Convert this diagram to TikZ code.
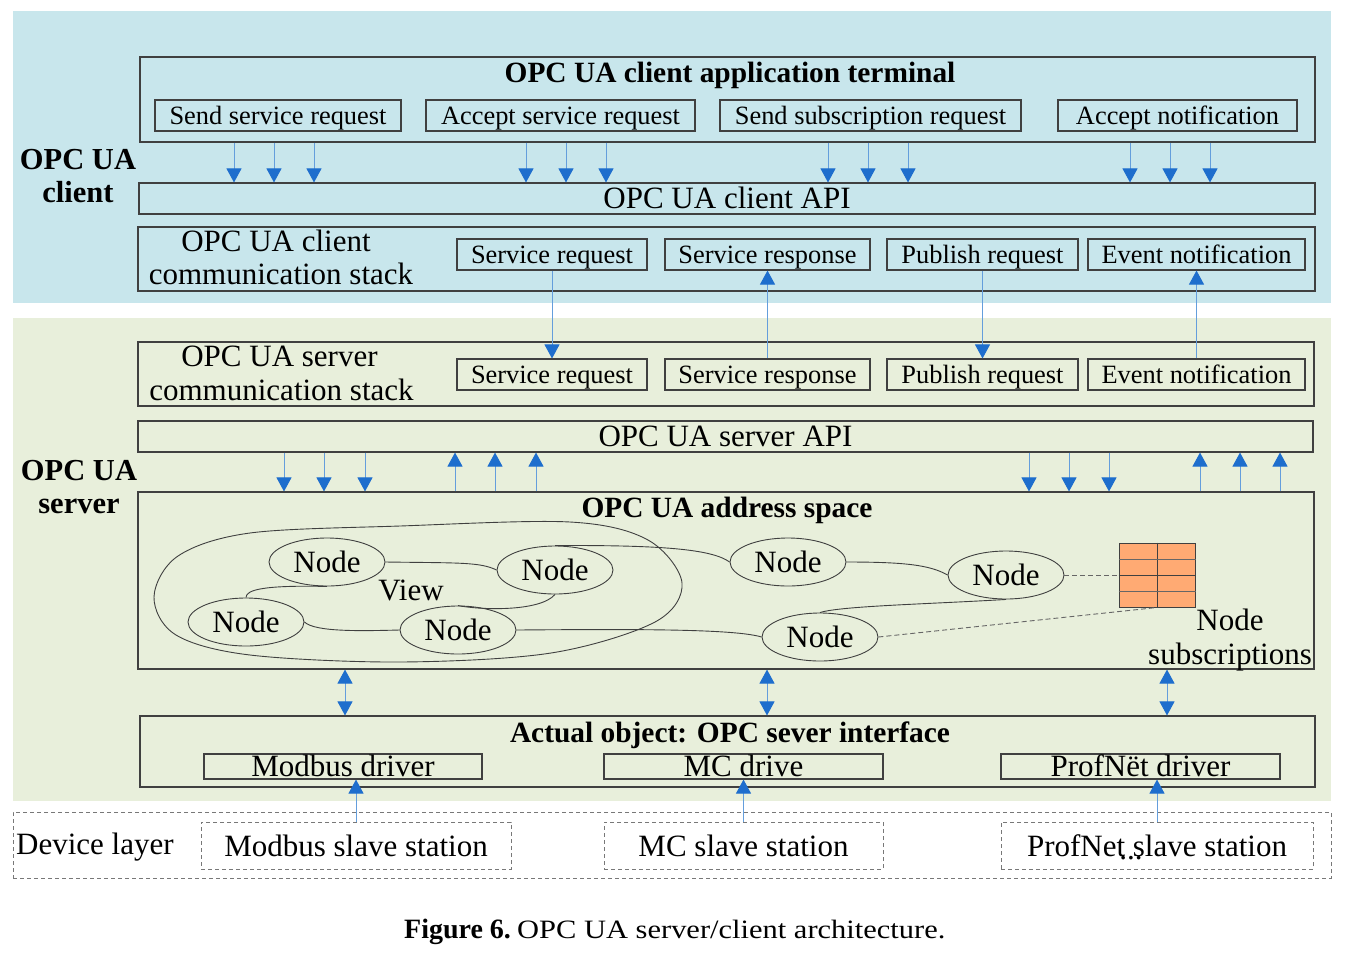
\documentclass[tikz,border=0pt]{standalone}
\usepackage{fontspec}
\setmainfont{Liberation Serif}
\newfontfamily\capfont[FakeStretch=1.15]{Liberation Serif}
\usetikzlibrary{arrows.meta,shapes.geometric,calc}
\definecolor{clientbg}{RGB}{200,230,236}
\definecolor{serverbg}{RGB}{232,239,219}
\definecolor{boxline}{RGB}{64,64,64}
\definecolor{shaft}{RGB}{100,158,220}
\definecolor{tipblue}{RGB}{30,110,205}
\definecolor{subsfill}{RGB}{255,170,115}
\definecolor{dashgray}{RGB}{120,120,120}
\newcommand\fsA{\fontsize{26.4}{30}\selectfont}
\newcommand\fsB{\fontsize{31}{35}\selectfont}
\newcommand\fsT{\fontsize{29.4}{33}\selectfont\bfseries}
\newcommand\fsL{\fontsize{30.5}{34}\selectfont\bfseries}
\tikzset{
  box/.style={draw=boxline, line width=1.1pt, inner sep=0pt, rectangle},
  tA/.style={font=\fsA, text height=22.4pt, text depth=5.3pt},
  tB/.style={font=\fsB, text height=24.8pt, text depth=5.6pt},
  tS/.style={font=\fsB, text height=26pt, text depth=5pt},
  tD/.style={font=\fsB, text height=19.2pt, text depth=0pt},
  lbl/.style={anchor=base, inner sep=0pt},
  ttl/.style={anchor=base, inner sep=0pt, font=\fsT},
  sidelbl/.style={anchor=base, inner sep=0pt, font=\fsL},
  ellnode/.style={ellipse, draw=boxline, line width=0.9pt, minimum width=116, minimum height=48, inner sep=0pt, font=\fsB},
  wire/.style={draw=boxline, line width=0.9pt},
  dwire/.style={draw=boxline!80, line width=0.9pt, dash pattern=on 5pt off 3pt},
  arr/.style={draw=shaft, line width=1pt, -{Triangle[width=15pt,length=14pt,color=tipblue]}},
  darr/.style={draw=shaft, line width=1pt, {Triangle[width=15pt,length=14pt,color=tipblue]}-{Triangle[width=15pt,length=14pt,color=tipblue]}},
  dbox/.style={draw=dashgray, line width=0.9pt, dash pattern=on 4pt off 3pt, inner sep=0pt, rectangle}
}
\begin{document}
\begin{tikzpicture}[x=1pt,y=-1pt]
\useasboundingbox (0,0) rectangle (1356,962);
\fill[clientbg] (13,11) rectangle (1331,303);
\fill[serverbg] (13,318) rectangle (1331,801);

% side labels
\node[sidelbl] (lc1) at (78,169) {OPC UA};
\node[sidelbl] (lc2) at (78,202) {client};
\node[sidelbl] (ls1) at (79,480) {OPC UA};
\node[sidelbl] (ls2) at (79,513) {server};

% client application terminal
\node[box, minimum width=1175, minimum height=85] (app) at (727.5,99.5) {};
\node[ttl] (appt) at (730,82) {OPC UA client application terminal};
\node[box, tA, minimum width=246, minimum height=31] (ssr) at (278,115.5) {Send service request};
\node[box, tA, minimum width=269, minimum height=31] (asr) at (560.5,115.5) {Accept service request};
\node[box, tA, minimum width=301, minimum height=31] (ssub) at (870.5,115.5) {Send subscription request};
\node[box, tA, minimum width=239, minimum height=31] (anot) at (1177.5,115.5) {Accept notification};

% client API
\node[box, tB, minimum width=1176, minimum height=31] (capi) at (727,198.5) {OPC UA client API};
\foreach \x in {234,274,314,526,566,606,828,868,908,1130,1170,1210}
  \draw[arr] (app.south -| \x,0) -- (capi.north -| \x,0);

% client communication stack
\node[box, minimum width=1177, minimum height=64] (cstack) at (726.5,259) {};
\node[lbl, font=\fsB] (cst1) at (276,251) {OPC UA client};
\node[lbl, font=\fsB] (cst2) at (281,284) {communication stack};
\node[box, tA, minimum width=190, minimum height=31] (csreq) at (552,254.5) {Service request};
\node[box, tA, minimum width=205, minimum height=31] (csresp) at (767.5,254.5) {Service response};
\node[box, tA, minimum width=191, minimum height=31] (cpreq) at (982.5,254.5) {Publish request};
\node[box, tA, minimum width=217, minimum height=31] (cevn) at (1196.5,254.5) {Event notification};

% server communication stack
\node[box, minimum width=1176, minimum height=64] (sstack) at (726,374) {};
\node[lbl, font=\fsB] (sst1) at (279.5,366) {OPC UA server};
\node[lbl, font=\fsB] (sst2) at (281.5,400) {communication stack};
\node[box, tA, minimum width=190, minimum height=31] (ssreq) at (552,374.5) {Service request};
\node[box, tA, minimum width=205, minimum height=31] (ssresp) at (767.5,374.5) {Service response};
\node[box, tA, minimum width=191, minimum height=31] (spreq) at (982.5,374.5) {Publish request};
\node[box, tA, minimum width=217, minimum height=31] (sevn) at (1196.5,374.5) {Event notification};

\draw[arr] (csreq.south) -- (ssreq.north);
\draw[arr] (ssresp.north) -- (csresp.south);
\draw[arr] (cpreq.south) -- (spreq.north);
\draw[arr] (sevn.north) -- (cevn.south);

% server API
\node[box, tB, minimum width=1175, minimum height=31] (sapi) at (725.5,436.5) {OPC UA server API};

% address space
\node[box, minimum width=1176, minimum height=177] (addr) at (726,580.5) {};
\node[ttl] (addrt) at (727,517) {OPC UA address space};
\foreach \x in {284,324,365,1029,1069,1109}
  \draw[arr] (sapi.south -| \x,0) -- (addr.north -| \x,0);
\foreach \x in {455,495,536,1200,1240,1280}
  \draw[arr] (addr.north -| \x,0) -- (sapi.south -| \x,0);

% view outline
\draw[wire] plot[smooth cycle, tension=0.55] coordinates {
  (154,597) (178,556) (250,533) (400,526) (570,522)
  (648,540) (682,583) (655,622) (551,653) (400,662)
  (250,655) (176,635)};
\node[lbl, font=\fsB] (view) at (411,600) {View};

\node[ellnode] (n1) at (327,562) {Node};
\node[ellnode] (n2) at (555,570) {Node};
\node[ellnode] (n3) at (246,622) {Node};
\node[ellnode] (n4) at (458,630) {Node};
\node[ellnode] (n5) at (788,562) {Node};
\node[ellnode] (n6) at (1006,575) {Node};
\node[ellnode] (n7) at (820,637) {Node};

\draw[wire] (n1.east) .. controls (460,563) and (480,562) .. (n2.west);
\draw[wire] (n1.south) .. controls (262,585) and (246,590) .. (n3.north);
\draw[wire] (n2.south) .. controls (540,612) and (480,610) .. (n4.north);
\draw[wire] (n3.east) .. controls (315,632) and (360,631) .. (n4.west);
\draw[wire] (n4.east) .. controls (640,629) and (735,629) .. (n7.west);
\draw[wire] (n2.north) .. controls (660,545) and (712,549) .. (n5.west);
\draw[wire] (n5.east) .. controls (905,562) and (930,565) .. (n6.west);
\draw[wire] (n6.south) .. controls (930,604) and (840,606) .. (n7.north);

% node subscriptions table
\node[draw=boxline, fill=subsfill, line width=1pt, minimum width=76, minimum height=64, inner sep=0pt] (subs) at (1157,575) {};
\draw[boxline, line width=1pt] (subs.north) -- (subs.south);
\draw[boxline!80, line width=1pt] ($(subs.west)+(0,-16)$) -- ($(subs.east)+(0,-16)$);
\draw[boxline, line width=1pt] (subs.west) -- (subs.east);
\draw[boxline!80, line width=1pt] ($(subs.west)+(0,16)$) -- ($(subs.east)+(0,16)$);
\draw[dwire] (n6.east) -- (subs.west);
\draw[dwire] (n7.east) -- (subs.south);
\node[lbl, font=\fsB] (subst1) at (1230,630) {Node};
\node[lbl, font=\fsB] (subst2) at (1230,664) {subscriptions};

% actual object
\node[box, minimum width=1175, minimum height=71] (actual) at (727.5,751.5) {};
\node[ttl] (actt) at (730,742) {Actual object: OPC sever interface};
\node[box, tD, minimum width=278, minimum height=25] (mdr) at (343,766.5) {Modbus driver};
\node[box, tD, minimum width=279, minimum height=25] (mcdr) at (743.5,766.5) {MC drive};
\node[box, tD, minimum width=279, minimum height=25] (pdr) at (1140.5,766.5) {ProfNët driver};
\foreach \x in {345,767,1167}
  \draw[darr] (addr.south -| \x,0) -- (actual.north -| \x,0);

% device layer
\node[dbox, minimum width=1318, minimum height=66] (dev) at (672,845) {};
\node[anchor=base west, inner sep=0pt, font=\fsB] (devt) at (16,854) {Device layer};
\node[dbox, fill=white, tS, minimum width=310, minimum height=47] (mst) at (356,845.5) {Modbus slave station};
\node[dbox, fill=white, tS, minimum width=279, minimum height=47] (mcst) at (743.5,845.5) {MC slave station};
\node[dbox, fill=white, tS, minimum width=312, minimum height=47] (pst) at (1157,845.5) {ProfNet slave station};
\node[inner sep=0pt, font=\fsB] (pdots) at (1131,858) {...};
\draw[arr] (mst.north) -- (mst.north |- mdr.south);
\draw[arr] (mcst.north) -- (mcst.north |- mcdr.south);
\draw[arr] (pst.north) -- (pst.north |- pdr.south);

% caption
\node[anchor=base west, inner sep=0pt, font=\fontsize{28}{32}\selectfont\bfseries] (cap1) at (404,938) {Figure 6.};
\node[anchor=base west, inner sep=0pt, font=\fontsize{26.5}{30}\selectfont\capfont] (cap2) at (517,938) {OPC UA server/client architecture.};
\end{tikzpicture}
\end{document}
